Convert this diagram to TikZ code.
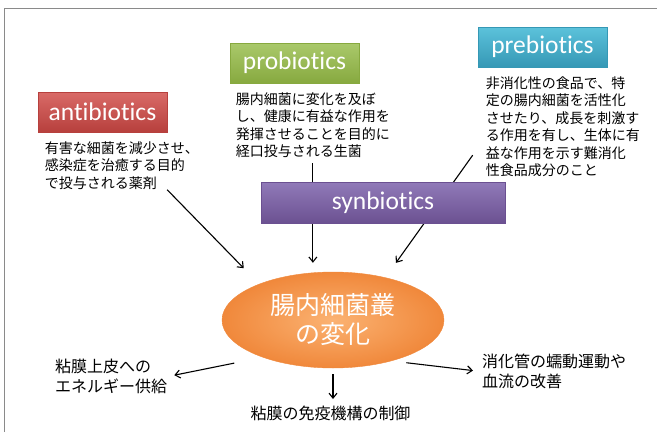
\documentclass[tikz,border=0pt]{standalone}
\usepackage{fontspec}
\setmainfont{Carlito}[Ligatures={NoCommon, NoRequired, NoContextual}]
\newfontfamily\jp{Noto Sans CJK JP}
\usepackage{tikz}
\usetikzlibrary{shapes, backgrounds}
\usetikzlibrary{positioning}
\usetikzlibrary{arrows.meta}
\usepackage{xcolor}
\definecolor{antitop}{HTML}{D96A67}
\definecolor{antibot}{HTML}{B7403D}
\definecolor{protop}{HTML}{AAC96B}
\definecolor{probot}{HTML}{87A93F}
\definecolor{pretop}{HTML}{5CC2DB}
\definecolor{prebot}{HTML}{3598B5}
\definecolor{syntop}{HTML}{9079B8}
\definecolor{synbot}{HTML}{6B5091}
\definecolor{gutin}{HTML}{FBB272}
\definecolor{gutout}{HTML}{F0883B}
\definecolor{frame}{HTML}{8A8A8A}

\begin{document}
\begin{tikzpicture}[x=1pt, y=-1pt]
      \tikzstyle{title}=[font=\fontsize{25.5}{25.5}\selectfont, text=white, minimum width=129pt, minimum height=40pt, inner sep=0pt, line width=0.6pt]
      \tikzstyle{desc}=[font={\jp\fontsize{14}{17.5}\selectfont}, align=left, inner sep=0pt, anchor=north west]
      \tikzstyle{effect}=[font={\jp\fontsize{16}{20}\selectfont}, align=left, inner sep=0pt]
      \tikzstyle{arr}=[-{Straight Barb[length=5pt, width=8pt]}, line width=1.1pt]

      \useasboundingbox (0,0) rectangle (657,432);
      \draw[frame, line width=1pt] (4,432) -- (4,8) -- (657,8);

      \node[title, top color=antitop, bottom color=antibot, draw=antibot] (anti) at (102.5,112) {antibiotics};
      \node[desc] (antitext) at ([xshift=7pt, yshift=-9pt]anti.south west) {有害な細菌を減少させ、\\感染症を治癒する目的\\で投与される薬剤};

      \node[title, top color=protop, bottom color=probot, draw=probot] (pro) at (294.5,63) {probiotics};
      \node[desc] (protext) at ([xshift=6pt, yshift=-9pt]pro.south west) {腸内細菌に変化を及ぼ\\し、健康に有益な作用を\\発揮させることを目的に\\経口投与される生菌};

      \node[title, top color=pretop, bottom color=prebot, draw=prebot] (pre) at (542.5,47) {prebiotics};
      \node[desc] (pretext) at ([xshift=8pt, yshift=-9pt]pre.south west) {非消化性の食品で、特\\定の腸内細菌を活性化\\させたり、成長を刺激す\\る作用を有し、生体に有\\益な作用を示す難消化\\性食品成分のこと};

      \node[ellipse, minimum width=222pt, minimum height=96pt, inner sep=0pt, shading=radial, inner color=gutin, outer color=gutout, draw=gutout, text=white, font={\jp\fontsize{25}{29}\selectfont}, align=center] (gut) at (333,320) {腸内細菌叢\\の変化};

      % arrows into the flora
      \draw[arr, shorten >=22pt] ([xshift=-32pt]antitext.south east) -- (gut.154);
      \draw[arr, shorten <=5pt, shorten >=9pt] (protext.south) -- (protext.south |- gut.north);
      \draw[arr, shorten >=18pt] ([shift={(-13pt,22pt)}]pretext.south west) -- (gut.39);

      \node[title, minimum width=244pt, minimum height=41pt, top color=syntop, bottom color=synbot, draw=synbot] (syn) at (383,203) {synbiotics};

      \node[effect, anchor=north west] (lefttext) at (55,359) {粘膜上皮への\\エネルギー供給};
      \node[effect, anchor=north] (bottext) at (330.5,406) {粘膜の免疫機構の制御};
      \node[effect, anchor=north west] (righttext) at (482,354) {消化管の蠕動運動や\\血流の改善};

      % effects
      \draw[arr, shorten <=29pt, shorten >=7pt] (gut.208) -- (lefttext.east);
      \draw[arr, shorten <=6pt, shorten >=7pt] (gut.south) -- (gut.south |- bottext.north);
      \draw[arr, shorten <=15pt, shorten >=9pt] (gut.325) -- (righttext.west);
\end{tikzpicture}
\end{document}
